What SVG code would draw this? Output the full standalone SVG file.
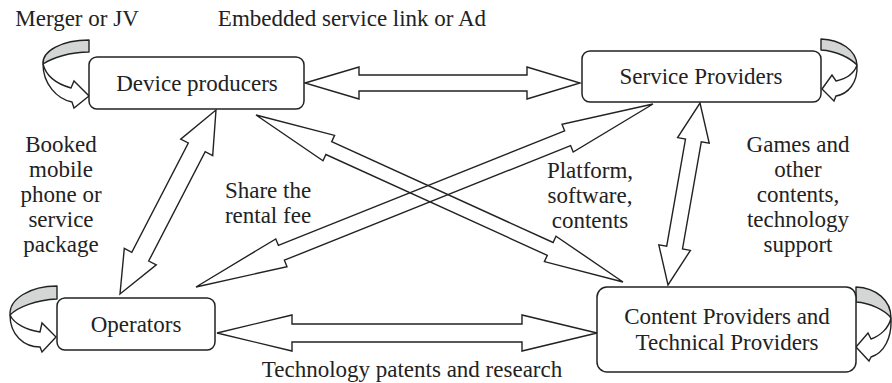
<svg xmlns="http://www.w3.org/2000/svg" width="892" height="383" viewBox="0 0 892 383">
<style>
.bg{fill:#ffffff}
.box{fill:#ffffff;stroke:#222;stroke-width:1.5}
.arr{fill:none;stroke:#222;stroke-width:1.4;stroke-linejoin:miter}
.back{fill:#d4d6d5;stroke:#222;stroke-width:1.4;stroke-linejoin:round}
.front{fill:#ffffff;stroke:#222;stroke-width:1.4;stroke-linejoin:miter}
text{font-family:"Liberation Serif","Times New Roman",serif;font-size:23px;fill:#222}
.c{text-anchor:middle}
</style>
<rect class="bg" x="0" y="0" width="892" height="383"/>

<g id="connectors">
  <polygon id="dev-svc" class="arr" points="305,83 359,67 359,75 527,75 527,67 580,83 527,99 527,91 359,91 359,99"/>
  <polygon id="op-cp" class="arr" points="217,333 292,315 292,324 522,324 522,315 597,333 522,351 522,342 292,342 292,351"/>
  <polygon id="dev-op" class="arr" points="216,110 212.7,155.6 205.2,151.7 148.7,261 156.3,264.9 120,294 124.3,248.4 131.8,252.3 188.3,143 180.7,139.1"/>
  <polygon id="dev-cp" class="arr" points="256,115 323,160.8 325.9,154.5 547.3,255.3 544.4,261.6 623,282 556,236.2 553.1,242.5 331.7,141.7 334.6,135.4"/>
  <polygon id="svc-op" class="arr" points="653,104 573.2,152.1 570.6,145.6 284.4,260.2 287,266.7 196,287 275.8,238.9 278.4,245.4 564.6,130.8 562,124.3"/>
  <polygon id="svc-cp" class="arr" points="700,103 709.2,143.2 701.3,141.8 682.5,249 690.4,250.4 668,285 658.8,244.8 666.7,246.2 685.5,139 677.6,137.6"/>
</g>

<g id="loop-device">
  <path class="back" d="M89,40 C62,40 42,51 43,64 C52,58 70,52 89,52 Z"/>
  <path class="front" d="M43,64 C43,84 57,99 72,102 L74,108 L89,96 L74,81 L71,88 C57,84 46,76 43,64 Z"/>
</g>
<g id="loop-service">
  <path class="back" d="M821,39 C841,40 856,50 857,65 C850,58 837,51 821,50 Z"/>
  <path class="front" d="M857,65 C858,83 848,94 836,96 L834,101 L822,89 L832,75 L836,81 C845,79 854,74 857,65 Z"/>
</g>
<g id="loop-operators">
  <path class="back" d="M57,286 C30,286 9,299 10,315 C18,307 36,300 57,299 Z"/>
  <path class="front" d="M10,315 C10,335 24,347 40,347 L42,352 L56,337 L42,323 L40,332 C27,330 14,324 10,315 Z"/>
</g>
<g id="loop-content">
  <path class="back" d="M856,287 C876,288 891,300 891,318 C885,310 870,303 856,302 Z"/>
  <path class="front" d="M891,318 C892,338 884,353 871,357 L869,361 L856,347 L868,333 L871,339 C880,336 889,328 891,318 Z"/>
</g>

<g id="device-producers">
  <rect class="box" x="89" y="57" width="215" height="52" rx="8"/>
  <text class="c" x="197" y="91">Device producers</text>
</g>
<g id="service-providers">
  <rect class="box" x="582" y="51" width="239" height="51" rx="8"/>
  <text class="c" x="701" y="84">Service Providers</text>
</g>
<g id="operators">
  <rect class="box" x="57" y="298" width="158" height="52" rx="8"/>
  <text class="c" x="136" y="332">Operators</text>
</g>
<g id="content-providers">
  <rect class="box" x="597" y="287" width="259" height="85" rx="10"/>
  <text class="c" x="727" y="324">Content Providers and</text>
  <text class="c" x="727" y="350">Technical Providers</text>
</g>

<g id="labels">
  <text class="c" x="77" y="26">Merger or JV</text>
  <text class="c" x="352" y="26">Embedded service link or Ad</text>
  <text class="c" x="61" y="152">Booked</text>
  <text class="c" x="61" y="177">mobile</text>
  <text class="c" x="61" y="202">phone or</text>
  <text class="c" x="61" y="227">service</text>
  <text class="c" x="61" y="252">package</text>
  <text class="c" x="268" y="198">Share the</text>
  <text class="c" x="268" y="223">rental fee</text>
  <text class="c" x="590" y="178">Platform,</text>
  <text class="c" x="590" y="203">software,</text>
  <text class="c" x="590" y="228">contents</text>
  <text class="c" x="798" y="152">Games and</text>
  <text class="c" x="798" y="177">other</text>
  <text class="c" x="798" y="202">contents,</text>
  <text class="c" x="798" y="227">technology</text>
  <text class="c" x="798" y="252">support</text>
  <text class="c" x="412" y="377">Technology patents and research</text>
</g>
</svg>
